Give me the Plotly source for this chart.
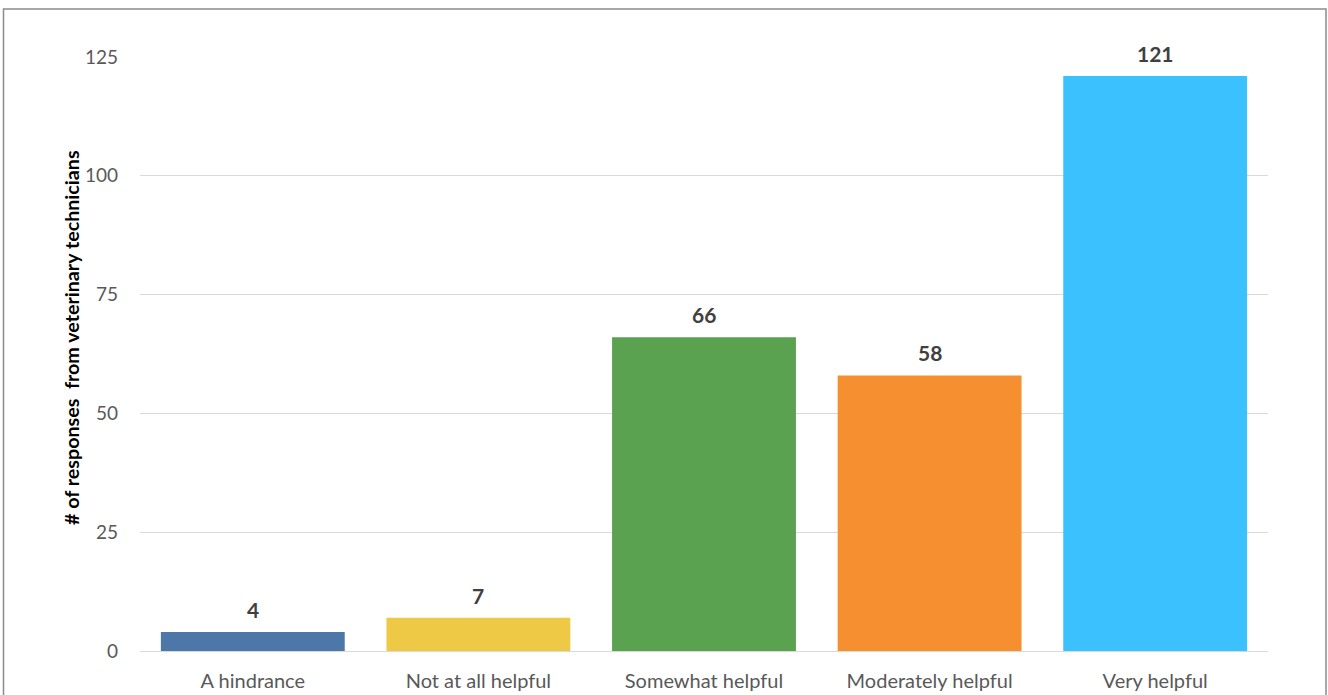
import plotly.graph_objects as go

categories = ["A hindrance", "Not at all helpful", "Somewhat helpful", "Moderately helpful", "Very helpful"]
values = [4, 7, 66, 58, 121]
colors = ["#4e77a9", "#edc945", "#5aa250", "#f68f2f", "#3bc1fe"]
y_ticks = [0, 25, 50, 75, 100, 125]
y_title = "# of responses  from veterinary technicians"

FONT = "Lato, Open Sans, sans-serif"

fig = go.Figure()
fig.add_trace(go.Bar(
    x=categories, y=values, marker=dict(color=colors, line=dict(width=0)),
    hoverinfo="skip", showlegend=False,
))

for c, v in zip(categories, values):
    fig.add_annotation(x=c, y=v, text=f"<b>{v}</b>", showarrow=False,
                       yanchor="bottom", yshift=8,
                       font=dict(family=FONT, size=21, color="#404040"))

# y-axis title (placed like the original, slightly above plot centre)
fig.add_annotation(xref="paper", yref="paper", x=(71 - 140) / 1128, y=(651 - 338) / 594,
                   text=f"<b>{y_title}</b>", textangle=-90, showarrow=False,
                   xanchor="center", yanchor="middle",
                   font=dict(family=FONT, size=19.7, color="#000000"))

# chart frame
fig.add_shape(type="rect", xref="paper", yref="paper",
              x0=(3.5 - 140) / 1128, x1=(1326 - 140) / 1128,
              y0=-0.3, y1=(651 - 9) / 594,
              line=dict(color="#8c8c8c", width=1.5), fillcolor="rgba(0,0,0,0)", layer="below")

fig.update_layout(
    width=1328, height=695,
    margin=dict(l=140, r=60, t=57, b=44),
    paper_bgcolor="white", plot_bgcolor="white",
    bargap=0.185,
    font=dict(family=FONT, size=19, color="#595959"),
    xaxis=dict(showgrid=False, showline=False, ticks="", ticklabelstandoff=16, automargin=False,
               tickfont=dict(size=20, color="#595959")),
    yaxis=dict(range=[0, 125], tickvals=y_ticks, showgrid=True, gridcolor="#d9d9d9",
               gridwidth=1.3, zeroline=True, zerolinecolor="#d9d9d9", zerolinewidth=1.3,
               showline=False, ticks="", ticklabelstandoff=21, automargin=False,
               tickfont=dict(size=19, color="#595959")),
)

fig.write_html("out.html", config={"displayModeBar": False},
               post_script="document.body.style.margin='0';")
